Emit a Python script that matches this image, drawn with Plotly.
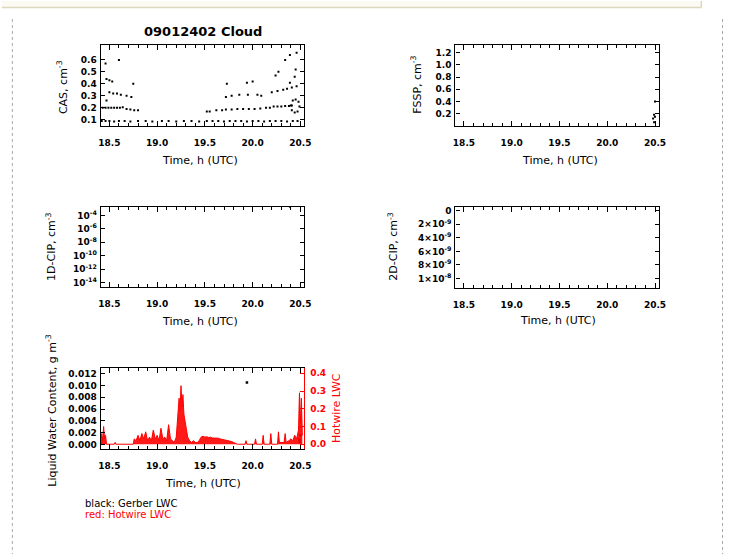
import plotly.graph_objects as go

# ---------------- data ----------------
time_ticks = [18.5, 19.0, 19.5, 20.0, 20.5]
time_labels = ["18.5", "19.0", "19.5", "20.0", "20.5"]

cas_ticks = [0.1, 0.2, 0.3, 0.4, 0.5, 0.6]
cas_labels = ["0.1", "0.2", "0.3", "0.4", "0.5", "0.6"]
cas_time = [
    18.42, 18.46, 18.50, 18.55, 18.60, 18.66, 18.72, 18.80, 18.88, 18.95, 19.05, 19.12,
    19.20, 19.28, 19.36, 19.44, 19.52, 19.58, 19.64, 19.70, 19.76, 19.82, 19.88, 19.94,
    20.00, 20.06, 20.12, 20.18, 20.24, 20.30, 20.36, 20.42, 20.47,
    18.43, 18.46, 18.49, 18.52, 18.55, 18.58, 18.61, 18.64,
    18.68, 18.72, 18.76, 18.80,
    18.50, 18.54, 18.58, 18.62, 18.68, 18.73,
    18.47, 18.50, 18.53, 18.75, 18.60, 18.46, 18.47,
    19.52, 19.55, 19.62, 19.68, 19.72, 19.78, 19.84, 19.90, 19.96, 20.02, 20.08, 20.14,
    20.18, 20.22, 20.26, 20.30, 20.34, 20.38, 20.41,
    20.42, 20.45, 20.48, 20.49, 20.47, 20.44, 20.41, 20.40,
    19.72, 19.78, 19.86, 19.95, 20.05, 20.20, 20.26, 20.32, 20.36, 20.41, 20.46,
    19.73, 19.94, 20.00,
    20.24, 20.27, 20.39, 20.44, 20.45, 20.39, 20.34, 20.46, 20.09,
]
cas_conc = [
    0.09, 0.09, 0.09, 0.085, 0.09, 0.09, 0.085, 0.09, 0.09, 0.085, 0.09, 0.09,
    0.085, 0.09, 0.09, 0.085, 0.09, 0.09, 0.09, 0.085, 0.09, 0.09, 0.09, 0.085,
    0.09, 0.09, 0.085, 0.09, 0.09, 0.09, 0.085, 0.09, 0.09,
    0.20, 0.20, 0.20, 0.20, 0.20, 0.20, 0.20, 0.205,
    0.19, 0.185, 0.18, 0.18,
    0.33, 0.32, 0.32, 0.31, 0.30, 0.29,
    0.44, 0.43, 0.42, 0.40, 0.60, 0.57, 0.26,
    0.17, 0.17, 0.18, 0.18, 0.185, 0.185, 0.19, 0.19, 0.19, 0.19, 0.195, 0.20,
    0.20, 0.21, 0.21, 0.21, 0.215, 0.215, 0.22,
    0.26, 0.27, 0.25, 0.21, 0.17, 0.16, 0.18, 0.22,
    0.29, 0.30, 0.31, 0.31, 0.31, 0.33, 0.34, 0.35, 0.36, 0.37, 0.38,
    0.40, 0.41, 0.42,
    0.47, 0.50, 0.41, 0.46, 0.52, 0.64, 0.60, 0.66, 0.30,
]

fssp_ticks = [0.2, 0.4, 0.6, 0.8, 1.0, 1.2]
fssp_labels = ["0.2", "0.4", "0.6", "0.8", "1.0", "1.2"]
fssp_time = [20.48, 20.49, 20.50, 20.50, 20.49]
fssp_conc = [0.12, 0.18, 0.15, 0.40, 0.06]

cip1_ticks = [1e-14, 1e-12, 1e-10, 1e-8, 1e-6, 1e-4]
cip1_labels = ["10<sup>-14</sup>", "10<sup>-12</sup>", "10<sup>-10</sup>",
               "10<sup>-8</sup>", "10<sup>-6</sup>", "10<sup>-4</sup>"]
cip1_time = [20.39]
cip1_conc = [1.8e-3]

cip2_ticks = [0, 2e-9, 4e-9, 6e-9, 8e-9, 1e-8]
cip2_labels = ["0", "2×10<sup>-9</sup>", "4×10<sup>-9</sup>", "6×10<sup>-9</sup>",
               "8×10<sup>-9</sup>", "1×10<sup>-8</sup>"]
cip2_time = []
cip2_conc = []

lwc_ticks = [0.0, 0.002, 0.004, 0.006, 0.008, 0.010, 0.012]
lwc_labels = ["0.000", "0.002", "0.004", "0.006", "0.008", "0.010", "0.012"]
gerber_time = [20.49, 20.495, 20.50, 19.94]
gerber_lwc = [0.0008, 0.0004, 0.0015, 0.0105]

hw_ticks = [0.0, 0.1, 0.2, 0.3, 0.4]
hw_labels = ["0.0", "0.1", "0.2", "0.3", "0.4"]
hw_time = [
    18.41, 18.42, 18.43, 18.44, 18.45, 18.46, 18.47, 18.55, 18.56, 18.57, 18.75,
    18.76, 18.78, 18.80, 18.82, 18.84, 18.86, 18.88, 18.90, 18.92, 18.94, 18.96, 18.98,
    19.00, 19.02, 19.04, 19.06, 19.08, 19.10, 19.12, 19.14, 19.16, 19.18, 19.20,
    19.21, 19.22, 19.23, 19.24, 19.25, 19.26, 19.27, 19.28, 19.29, 19.30, 19.31, 19.32,
    19.34, 19.36, 19.38, 19.40, 19.42, 19.44, 19.46, 19.48, 19.50, 19.52, 19.54, 19.56,
    19.58, 19.60, 19.62, 19.64, 19.66, 19.68, 19.70, 19.72, 19.74, 19.76, 19.78, 19.80,
    19.82, 19.84, 19.92, 19.93, 19.94, 20.02, 20.03, 20.04, 20.10, 20.11, 20.12, 20.18,
    20.19, 20.20, 20.26, 20.27, 20.28, 20.33, 20.34, 20.35, 20.38, 20.40, 20.42, 20.44,
    20.46, 20.48, 20.49, 20.50, 20.51, 20.52,
]
hw_lwc = [
    0.00, 0.06, 0.02, 0.10, 0.03, 0.05, 0.00, 0.00, 0.01, 0.00, 0.00,
    0.03, 0.02, 0.05, 0.02, 0.06, 0.03, 0.07, 0.02, 0.04, 0.02, 0.08, 0.03,
    0.05, 0.02, 0.09, 0.03, 0.04, 0.02, 0.11, 0.03, 0.02, 0.01, 0.04,
    0.12, 0.18, 0.26, 0.19, 0.33, 0.21, 0.28, 0.17, 0.14, 0.09, 0.06, 0.04,
    0.02, 0.01, 0.02, 0.01, 0.01, 0.02, 0.04, 0.045, 0.04, 0.042, 0.038, 0.04,
    0.035, 0.036, 0.033, 0.034, 0.03, 0.028, 0.026, 0.025, 0.022, 0.018, 0.015, 0.01,
    0.004, 0.0, 0.0, 0.02, 0.0, 0.0, 0.03, 0.0, 0.0, 0.05, 0.0, 0.0,
    0.06, 0.0, 0.0, 0.07, 0.01, 0.01, 0.06, 0.01, 0.02, 0.03, 0.02, 0.05,
    0.03, 0.08, 0.29, 0.12, 0.26, 0.05,
]

# ---------------- layout helpers ----------------
W, H = 733, 554
def px(x):
    return x / W
def py(y):
    return 1 - y / H

FONT = "DejaVu Sans"
tickfont = dict(family=FONT, size=9, color="black", weight="bold")
XR = [18.41, 20.54]

def xaxis(x0, x1, anchor):
    return dict(
        domain=[px(x0), px(x1)], anchor=anchor, range=XR,
        showline=True, linecolor="black", linewidth=1.3, mirror="ticks",
        ticks="inside", ticklen=5, tickwidth=1.3, tickcolor="black",
        tickmode="array", tickvals=time_ticks, ticktext=time_labels,
        minor=dict(ticks="inside", tickmode="linear", tick0=18.4, dtick=0.1,
                   ticklen=3, tickwidth=1, tickcolor="black"),
        showgrid=False, zeroline=False, tickfont=tickfont, ticklabelstandoff=8,
    )

def yaxis(y0, y1, anchor, rng, tv, tt, typ="linear", mirror="ticks"):
    return dict(
        domain=[py(y1), py(y0)], anchor=anchor, range=rng, type=typ,
        showline=True, linecolor="black", linewidth=1.3, mirror=mirror,
        ticks="inside", ticklen=4, tickwidth=1.2, tickcolor="black",
        tickmode="array", tickvals=tv, ticktext=tt,
        showgrid=False, zeroline=False, tickfont=tickfont, ticklabelstandoff=1,
    )

fig = go.Figure()

mk = dict(color="black", size=2, symbol="square")
fig.add_trace(go.Scatter(x=cas_time, y=cas_conc, mode="markers", marker=mk,
                         xaxis="x", yaxis="y"))
fig.add_trace(go.Scatter(x=fssp_time, y=fssp_conc, mode="markers", marker=mk,
                         xaxis="x2", yaxis="y2"))
fig.add_trace(go.Scatter(x=cip1_time, y=cip1_conc, mode="markers",
                         marker=dict(color="red", size=2, symbol="square"),
                         xaxis="x3", yaxis="y3"))
fig.add_trace(go.Scatter(x=cip2_time, y=cip2_conc, mode="markers", marker=mk,
                         xaxis="x4", yaxis="y4"))
fig.add_trace(go.Scatter(x=gerber_time, y=gerber_lwc, mode="markers",
                         marker=dict(color="black", size=2.5, symbol="square"),
                         xaxis="x5", yaxis="y5"))
fig.add_trace(go.Scatter(x=hw_time, y=hw_lwc, mode="lines",
                         line=dict(color="red", width=1), fill="tozeroy",
                         fillcolor="rgba(255,0,0,0.9)", xaxis="x5", yaxis="y6"))

fig.update_layout(
    width=W, height=H, margin=dict(l=0, r=0, t=0, b=0),
    paper_bgcolor="white", plot_bgcolor="white", showlegend=False,
    xaxis=xaxis(100, 306, "y"),
    yaxis=yaxis(44, 125, "x", [0.05, 0.725], cas_ticks, cas_labels),
    xaxis2=xaxis(459, 665, "y2"),
    yaxis2=yaxis(44, 125, "x2", [0.0, 1.33], fssp_ticks, fssp_labels),
    xaxis3=xaxis(100, 306, "y3"),
    yaxis3=yaxis(206, 287, "x3", [-14.7, -2.7], cip1_ticks, cip1_labels, typ="log"),
    xaxis4=xaxis(459, 665, "y4"),
    yaxis4=yaxis(206, 288, "x4", [1.147e-8, -0.06e-8], cip2_ticks, cip2_labels),
    xaxis5=xaxis(100, 306, "y5"),
    yaxis5=yaxis(368, 449, "x5", [-0.0008, 0.0129], lwc_ticks, lwc_labels, mirror=True),
    yaxis6=dict(
        domain=[py(449), py(368)], anchor="x5", overlaying="y5", side="right",
        range=[-0.028, 0.428], showline=True, linecolor="red", linewidth=1.3,
        ticks="inside", ticklen=4, tickwidth=1.2, tickcolor="red",
        tickmode="array", tickvals=hw_ticks, ticktext=hw_labels,
        showgrid=False, zeroline=False,
        tickfont=dict(family=FONT, size=9, color="red", weight="bold"),
        ticklabelstandoff=3,
    ),
)

shapes = [
    dict(type="rect", xref="paper", yref="paper", x0=0, x1=px(708),
         y0=py(6.5), y1=1, fillcolor="#fbfaf3", line=dict(width=0), layer="below"),
    dict(type="line", xref="paper", yref="paper", x0=0, x1=px(708),
         y0=py(6.5), y1=py(6.5), line=dict(color="#dcd8c0", width=1.5)),
    dict(type="line", xref="paper", yref="paper", x0=px(708), x1=px(708),
         y0=py(6.5), y1=1, line=dict(color="#dcd8c0", width=1.5)),
    dict(type="line", xref="paper", yref="paper", x0=px(10.5), x1=px(10.5),
         y0=py(18), y1=0, line=dict(color="#a8a8a8", width=1, dash="dot")),
    dict(type="line", xref="paper", yref="paper", x0=px(729.5), x1=px(729.5),
         y0=py(18), y1=0, line=dict(color="#a8a8a8", width=1, dash="dot")),
]
fig.update_layout(shapes=shapes)

def ann(text, x, y, angle=0, color="black", size=11, bold=False, xanchor="center"):
    return dict(text=text, x=px(x), y=py(y), xref="paper", yref="paper",
                showarrow=False, textangle=angle, xanchor=xanchor, yanchor="middle",
                font=dict(family=FONT, size=size, color=color,
                          weight="bold" if bold else "normal"))

annotations = [
    ann("09012402 Cloud", 203, 31, size=13, bold=True),
    ann("Time, h (UTC)", 200, 160),
    ann("Time, h (UTC)", 565, 160),
    ann("Time, h (UTC)", 200, 321),
    ann("Time, h (UTC)", 563, 320),
    ann("Time, h (UTC)", 204, 483),
    ann("CAS, cm<sup>-3</sup>", 62, 86, angle=-90),
    ann("FSSP, cm<sup>-3</sup>", 420, 84, angle=-90),
    ann("1D-CIP, cm<sup>-3</sup>", 50, 246, angle=-90),
    ann("2D-CIP, cm<sup>-3</sup>", 396, 246, angle=-90),
    ann("Liquid Water Content, g m<sup>-3</sup>", 50, 410, angle=-90),
    ann("Hotwire LWC", 338, 408, angle=-90, color="red"),
    ann("black: Gerber LWC", 82, 503, xanchor="left", size=10),
    ann("red: Hotwire LWC", 82, 514, xanchor="left", size=10, color="red"),
]
fig.update_layout(annotations=annotations)

fig.write_html(
    "out.html",
    config={"displayModeBar": False},
    post_script="document.body.style.margin='0';document.body.style.padding='0';"
                "document.body.style.overflow='hidden';",
)
